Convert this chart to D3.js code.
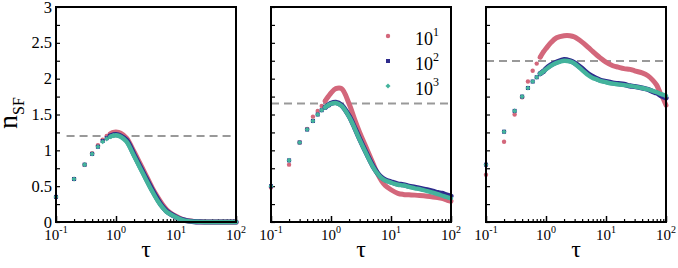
<!DOCTYPE html>
<html>
<head>
<meta charset="utf-8">
<script src="https://cdn.jsdelivr.net/npm/d3@7"></script>
<style>
body { margin: 0; background: #fff; }
</style>
</head>
<body>
<svg id="chart"></svg>
<script>
const width = 678, height = 268;

// tau values shared by all series
const tau = [0.1, 0.2, 0.3, 0.4, 0.5, 0.6, 0.7, 0.8, 0.9, 1, 1.2, 1.5, 2, 2.5, 3, 4, 5, 6, 7, 8,
  10, 13, 16, 20, 25, 30, 40, 50, 60, 70, 80, 90, 100];

// panel 1
const a10 = [0.35, 0.60, 0.80, 0.96, 1.07, 1.15, 1.20, 1.23, 1.25, 1.255, 1.24, 1.17, 0.98, 0.82, 0.69, 0.48, 0.34, 0.24, 0.17, 0.13,
  0.08, 0.035, 0.018, 0.008, 0.003, 0, 0, 0, 0, 0, 0, 0, 0];
const a100 = [0.35, 0.60, 0.80, 0.95, 1.05, 1.13, 1.17, 1.20, 1.215, 1.22, 1.20, 1.14, 0.94, 0.78, 0.65, 0.45, 0.31, 0.21, 0.15, 0.115,
  0.07, 0.03, 0.014, 0.006, 0.002, 0, 0, 0, 0, 0, 0, 0, 0];
const a1000 = [0.35, 0.60, 0.80, 0.95, 1.05, 1.12, 1.16, 1.19, 1.205, 1.21, 1.19, 1.12, 0.92, 0.76, 0.63, 0.43, 0.29, 0.20, 0.14, 0.11,
  0.065, 0.025, 0.012, 0.005, 0.002, 0, 0, 0, 0, 0, 0, 0, 0];

// panel 2
const b10 = [0.48, 0.80, 1.11, 1.30, 1.47, 1.55, 1.62, 1.69, 1.75, 1.80, 1.86, 1.86, 1.65, 1.42, 1.25, 1.01, 0.82, 0.67, 0.57, 0.51,
  0.45, 0.40, 0.385, 0.38, 0.375, 0.37, 0.36, 0.35, 0.34, 0.33, 0.315, 0.30, 0.29];
const b100 = [0.50, 0.86, 1.11, 1.29, 1.41, 1.50, 1.56, 1.60, 1.63, 1.655, 1.67, 1.63, 1.48, 1.31, 1.16, 0.94, 0.78, 0.68, 0.62, 0.59,
  0.56, 0.53, 0.52, 0.50, 0.485, 0.47, 0.45, 0.43, 0.41, 0.40, 0.385, 0.37, 0.36];
const b1000 = [0.50, 0.86, 1.11, 1.29, 1.41, 1.50, 1.56, 1.60, 1.63, 1.65, 1.66, 1.62, 1.47, 1.30, 1.15, 0.93, 0.77, 0.67, 0.61, 0.58,
  0.55, 0.52, 0.51, 0.49, 0.47, 0.46, 0.43, 0.41, 0.39, 0.37, 0.355, 0.34, 0.33];

// panel 3
const c10 = [0.66, 1.12, 1.50, 1.74, 1.96, 2.11, 2.21, 2.30, 2.37, 2.42, 2.50, 2.57, 2.60, 2.60, 2.58, 2.51, 2.44, 2.38, 2.33, 2.29,
  2.23, 2.18, 2.16, 2.14, 2.13, 2.11, 2.08, 2.04, 1.98, 1.91, 1.80, 1.72, 1.63];
const c100 = [0.80, 1.26, 1.55, 1.75, 1.87, 1.96, 2.02, 2.07, 2.10, 2.14, 2.19, 2.23, 2.265, 2.25, 2.22, 2.14, 2.07, 2.03, 2.00, 1.98,
  1.96, 1.94, 1.93, 1.92, 1.90, 1.89, 1.87, 1.85, 1.82, 1.80, 1.77, 1.75, 1.73];
const c1000 = [0.80, 1.26, 1.55, 1.75, 1.87, 1.96, 2.02, 2.07, 2.10, 2.13, 2.18, 2.22, 2.25, 2.24, 2.21, 2.12, 2.05, 2.01, 1.99, 1.97,
  1.95, 1.93, 1.92, 1.91, 1.90, 1.89, 1.87, 1.85, 1.83, 1.81, 1.79, 1.775, 1.76];

const dashLevels = [1.2, 1.655, 2.245];
const legendExps = ["1", "2", "3"];
const yTickLabels = [0, 0.5, 1, 1.5, 2, 2.5, 3];
const xTickExps = ["-1", "0", "1", "2"];

const colors = ["#d3677b", "#2e2b8c", "#43b39c"];

const panels = [
  { left: 56, series: [a10, a100, a1000], dash: dashLevels[0], dashFrom: 0.15 },
  { left: 271, series: [b10, b100, b1000], dash: dashLevels[1], dashFrom: 0.1 },
  { left: 486, series: [c10, c100, c1000], dash: dashLevels[2], dashFrom: 0.1 }
];
const pw = 180, plotTop = 7, plotBottom = 222;

const svg = d3.select("#chart").attr("width", width).attr("height", height);

const y = d3.scaleLinear().domain([0, 3]).range([plotBottom, plotTop]);

function marker(g, k, px, py, c) {
  if (k == 0) {
    g.append("circle").attr("cx", px).attr("cy", py).attr("r", 2.2).attr("fill", c);
  } else if (k == 1) {
    g.append("rect").attr("x", px - 2).attr("y", py - 2).attr("width", 4).attr("height", 4).attr("fill", c);
  } else {
    g.append("rect").attr("x", -1.8).attr("y", -1.8).attr("width", 3.6).attr("height", 3.6)
      .attr("transform", `translate(${px},${py}) rotate(45)`).attr("fill", c);
  }
}

panels.forEach(function(p, pi) {
  const x = d3.scaleLog().domain([0.1, 100]).range([p.left, p.left + pw]);
  const g = svg.append("g");

  // ticks (inward)
  const majors = [0.1, 1, 10, 100];
  const minors = [];
  [0.1, 1, 10].forEach(d => { for (let m = 2; m <= 9; m++) minors.push(d * m); });

  g.append("g").attr("transform", `translate(0,${plotBottom})`)
    .call(d3.axisBottom(x).tickValues(minors).tickSize(-3).tickFormat(""))
    .call(a => a.select(".domain").remove())
    .selectAll("line").attr("stroke", "#000").attr("stroke-width", 1.2);
  g.append("g").attr("transform", `translate(0,${plotBottom})`)
    .call(d3.axisBottom(x).tickValues(majors).tickSize(-6).tickFormat(""))
    .call(a => a.select(".domain").remove())
    .selectAll("line").attr("stroke", "#000").attr("stroke-width", 1.5);
  g.append("g").attr("transform", `translate(${p.left},0)`)
    .call(d3.axisLeft(y).tickValues(d3.range(0, 3.01, 0.25)).tickSize(-4).tickFormat(""))
    .call(a => a.select(".domain").remove())
    .selectAll("line").attr("stroke", "#000").attr("stroke-width", 1.2);

  // dashed reference line
  g.append("line")
    .attr("x1", x(p.dashFrom)).attr("x2", x(100))
    .attr("y1", y(p.dash)).attr("y2", y(p.dash))
    .attr("stroke", "#999").attr("stroke-width", 2).attr("stroke-dasharray", "8,5");

  // series: dense part as thick band, sparse part as markers
  const line = d3.line().x(d => x(d[0])).y(d => y(d[1])).curve(d3.curveCatmullRom.alpha(0.5));
  const widths = [5, 5.2, 4.4];
  p.series.forEach(function(vals, k) {
    const pts = tau.map((t, i) => [t, vals[i]]);
    g.append("path").datum(pts.filter(d => d[0] >= 0.8))
      .attr("d", line).attr("fill", "none")
      .attr("stroke", colors[k]).attr("stroke-width", widths[k])
      .attr("stroke-linecap", "round").attr("stroke-linejoin", "round");
    pts.filter(d => d[0] <= 0.9).forEach(d => marker(g, k, x(d[0]), y(d[1]), colors[k]));
  });

  // frame
  g.append("rect").attr("x", p.left).attr("y", plotTop).attr("width", pw).attr("height", plotBottom - plotTop)
    .attr("fill", "none").attr("stroke", "#000").attr("stroke-width", 2);

  // x tick labels
  majors.forEach(function(v, i) {
    const t = g.append("text").attr("x", x(v)).attr("y", 240)
      .attr("text-anchor", "middle").attr("font-size", 15);
    t.append("tspan").text("10");
    t.append("tspan").attr("dy", -7).attr("font-size", 10).text(xTickExps[i]);
  });

  // x axis title
  g.append("text").attr("x", p.left + pw / 2).attr("y", 257)
    .attr("text-anchor", "middle").attr("font-size", 24).text("τ");

  if (pi == 0) {
    yTickLabels.forEach(function(v) {
      g.append("text").attr("x", 52).attr("y", y(v) + 5.5)
        .attr("text-anchor", "end").attr("font-size", 16.5).text(v);
    });
    const lab = g.append("text").attr("transform", "translate(17,129) rotate(-90)")
      .attr("font-size", 28);
    lab.append("tspan").text("n");
    lab.append("tspan").attr("dy", 7).attr("font-size", 16).text("SF");
  }

  if (pi == 1) {
    legendExps.forEach(function(e, k) {
      const ly = 36 + k * 25;
      marker(g, k, 388, ly, colors[k]);
      const t = g.append("text").attr("x", 415).attr("y", ly + 9).attr("font-size", 18);
      t.append("tspan").text("10");
      t.append("tspan").attr("dy", -9).attr("font-size", 12).text(e);
    });
  }
});

// serif font set on each text element
svg.selectAll("text").style("font-family", '"Liberation Serif"');
</script>
</body>
</html>
